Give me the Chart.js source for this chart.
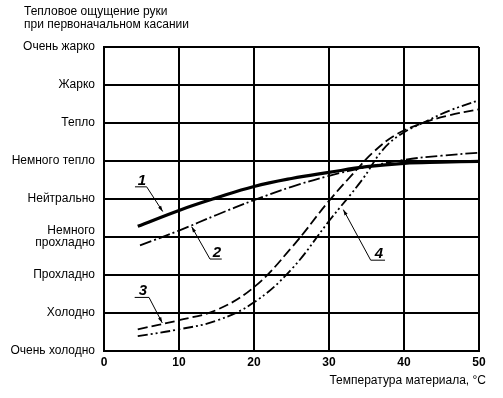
<!DOCTYPE html>
<html>
<head>
<meta charset="utf-8">
<script src="https://cdn.jsdelivr.net/npm/chart.js@4.4.0/dist/chart.umd.min.js"></script>
<style>
  html, body { margin: 0; padding: 0; background: #fff; }
  #wrap { width: 503px; height: 398px; }
</style>
</head>
<body>
<div id="wrap"><canvas id="myChart" width="503" height="398"></canvas></div>
<script>
// sensation scale, bottom to top
const sensations = ['Очень холодно', 'Холодно', 'Прохладно', ['Немного', 'прохладно'],
    'Нейтрально', 'Немного тепло', 'Тепло', 'Жарко', 'Очень жарко'];
const xTitle = 'Температура материала, °C';
const yTitle = ['Тепловое ощущение руки', 'при первоначальном касании'];

// curve 1 - solid
const x1 = [4.5, 10, 15, 20, 25, 30, 35, 40, 45, 50];
const y1 = [3.28, 3.70, 4.03, 4.33, 4.54, 4.70, 4.85, 4.94, 4.97, 4.99];
// curve 2 - dash-dot
const x2 = [4.8, 10, 15, 20, 25, 30, 35, 40, 45, 50];
const y2 = [2.78, 3.17, 3.58, 3.97, 4.32, 4.61, 4.84, 5.03, 5.14, 5.22];
// curve 3 - dashed
const x3 = [4.5, 10, 15, 20, 25, 30, 33, 36, 39, 42.5, 46, 50];
const y3 = [0.57, 0.81, 1.08, 1.68, 2.72, 3.95, 4.62, 5.25, 5.70, 6.00, 6.20, 6.36];
// curve 4 - dash-dot-dot
const x4 = [4.5, 10, 15, 20, 25, 30, 34.4, 37.2, 39.7, 42.5, 46, 50];
const y4 = [0.39, 0.57, 0.80, 1.28, 2.15, 3.42, 4.50, 5.30, 5.72, 6.00, 6.32, 6.60];

// callouts: number, underline start/end, leader end on curve (in axis units)
const callouts = [
    { n: '1', u: [4.13, 5.69, 4.32], to: [7.83, 3.67], from: 'right' },
    { n: '2', u: [14.13, 15.70, 2.42], to: [11.69, 3.27], from: 'left' },
    { n: '3', u: [4.09, 6.00, 1.41], to: [7.77, 0.74], from: 'right' },
    { n: '4', u: [35.56, 37.47, 2.39], to: [31.91, 3.72], from: 'left' },
];

const pts = (xs, ys) => xs.map((x, i) => ({ x: x, y: ys[i] }));

const FONT = '"Liberation Sans", Arial, sans-serif';

const extras = {
    id: 'extras',
    afterDraw(chart) {
        const c = chart.ctx;
        const xs = chart.scales.x, ys = chart.scales.y;
        c.save();
        c.fillStyle = '#000';
        c.font = '12px ' + FONT;
        c.textAlign = 'left';
        c.textBaseline = 'middle';
        c.fillText(yTitle[0], 24, 12);
        c.fillText(yTitle[1], 24, 25);
        c.textAlign = 'right';
        c.fillText(xTitle, 486, 381);

        c.strokeStyle = '#000';
        c.lineWidth = 1;
        callouts.forEach(o => {
            const ux0 = xs.getPixelForValue(o.u[0]);
            const ux1 = xs.getPixelForValue(o.u[1]);
            const uy = ys.getPixelForValue(o.u[2]);
            const sx = o.from === 'right' ? ux1 : ux0;
            const ex = xs.getPixelForValue(o.to[0]);
            const ey = ys.getPixelForValue(o.to[1]);
            c.beginPath();
            c.moveTo(ux0, uy); c.lineTo(ux1, uy);
            c.moveTo(sx, uy); c.lineTo(ex, ey);
            c.stroke();
            // arrow head
            const a = Math.atan2(ey - uy, ex - sx);
            c.beginPath();
            c.moveTo(ex, ey);
            c.lineTo(ex - 6 * Math.cos(a - 0.3), ey - 6 * Math.sin(a - 0.3));
            c.lineTo(ex - 6 * Math.cos(a + 0.3), ey - 6 * Math.sin(a + 0.3));
            c.closePath();
            c.fill();
            c.font = 'italic bold 15px ' + FONT;
            c.textAlign = 'center';
            c.textBaseline = 'alphabetic';
            c.fillText(o.n, (ux0 + ux1) / 2 + 1, uy - 2);
        });
        c.restore();
    }
};

const ctx = document.getElementById('myChart').getContext('2d');
const chart = new Chart(ctx, {
    type: 'line',
    data: {
        datasets: [
            { data: pts(x1, y1), borderWidth: 3.2, borderDash: [] },
            { data: pts(x2, y2), borderWidth: 1.8, borderDash: [12, 3, 2, 3] },
            { data: pts(x3, y3), borderWidth: 1.8, borderDash: [10, 4] },
            { data: pts(x4, y4), borderWidth: 1.8, borderDash: [10, 3, 2, 3, 2, 3] },
        ].map(d => Object.assign(d, {
            borderColor: '#000',
            pointRadius: 0,
            fill: false,
            tension: 0.4,
        }))
    },
    options: {
        responsive: false,
        animation: false,
        layout: { padding: { top: 47, right: 24, bottom: 0, left: 0 } },
        plugins: { legend: { display: false }, tooltip: { enabled: false } },
        scales: {
            x: {
                type: 'linear',
                min: 0, max: 50,
                afterFit: s => { s.height = 47; },
                border: { color: '#000', width: 2 },
                grid: { color: '#000', lineWidth: 2, drawTicks: false },
                ticks: {
                    stepSize: 10, padding: 4, color: '#000',
                    maxRotation: 0,
                    font: { family: FONT, size: 12, weight: 'bold' },
                },
            },
            y: {
                type: 'linear',
                min: 0, max: 8,
                afterFit: s => { s.width = 104; },
                border: { color: '#000', width: 2 },
                grid: { color: '#000', lineWidth: 2, drawTicks: false },
                ticks: {
                    stepSize: 1, padding: 9, color: '#000',
                    font: { family: FONT, size: 12, lineHeight: 1.0 },
                    callback: v => sensations[v],
                },
            },
        },
    },
    plugins: [extras],
});
</script>
</body>
</html>
